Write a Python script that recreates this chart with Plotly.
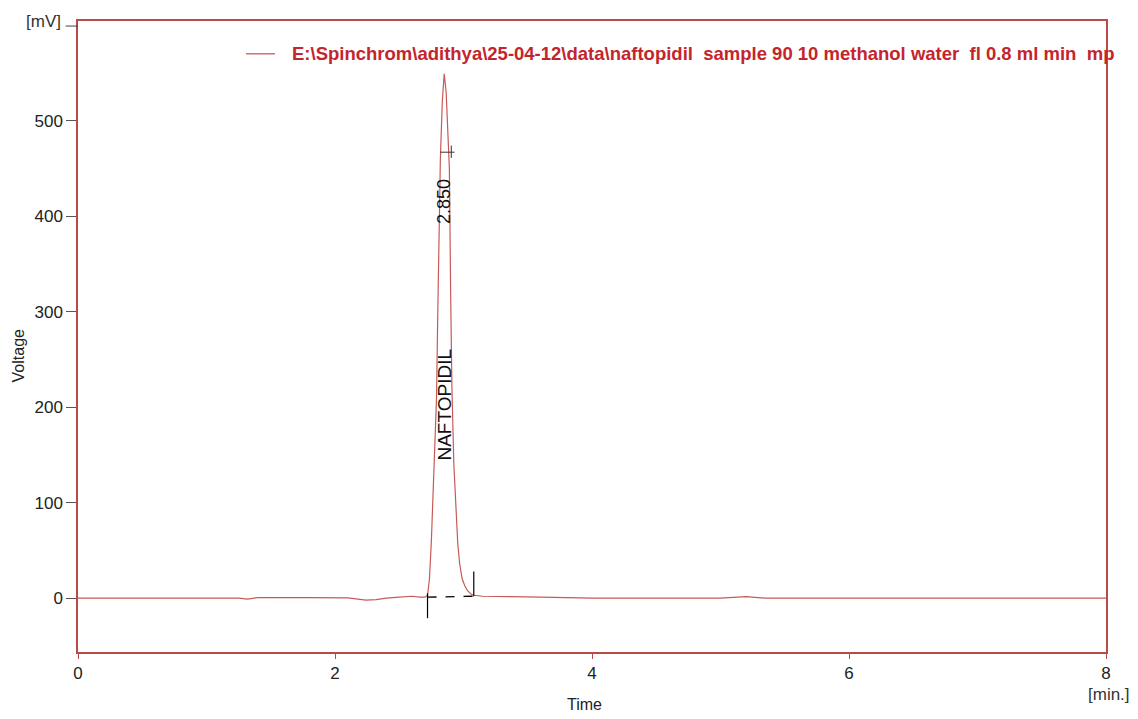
import plotly.graph_objects as go

# Chromatogram trace (time in min, voltage in mV)
time_min = [0.00, 0.50, 1.00, 1.25, 1.32, 1.40, 1.80, 2.10, 2.18, 2.24, 2.32, 2.40,
             2.50, 2.60, 2.66, 2.70, 2.72, 2.735, 2.75, 2.765, 2.78, 2.79, 2.80, 2.81,
             2.82, 2.835, 2.85, 2.865, 2.88, 2.89, 2.90, 2.91, 2.925, 2.94, 2.955,
             2.97, 2.99, 3.01, 3.03, 3.06, 3.08, 3.15, 3.30, 3.60, 4.00, 4.50, 5.00,
             5.20, 5.28, 5.35, 5.50, 6.00, 7.00, 8.00]
voltage_mv = [0.0, 0.0, 0.0, 0.0, -1.0, 0.5, 0.5, 0.3, -1.0, -2.0, -1.5, 0.0,
              1.0, 2.0, 1.0, 1.0, 3.0, 20.0, 60.0, 110.0, 170.0, 210.0, 300.0, 390.0,
              460.0, 520.0, 549.0, 530.0, 490.0, 450.0, 320.0, 220.0, 140.0, 90.0, 58.0,
              36.0, 20.0, 13.0, 8.0, 4.0, 3.0, 2.0, 1.5, 1.0, 0.0, 0.0, 0.0,
              1.5, 1.0, 0.0, 0.0, 0.0, 0.0, 0.0]

# Peak integration info
peak_name = "NAFTOPIDIL"
peak_rt = 2.850
peak_start = [2.72, 1.0]
peak_end = [3.08, 2.0]
trace_name = "E:\\Spinchrom\\adithya\\25-04-12\\data\\naftopidil  sample 90 10 methanol water  fl 0.8 ml min  mp"

x_ticks = [0, 2, 4, 6, 8]
y_ticks = [0, 100, 200, 300, 400, 500]

FRAME = "#b94a48"
LINE = "#c75a58"
FONT = "Liberation Sans, Arial, sans-serif"

fig = go.Figure()
fig.add_trace(go.Scatter(x=time_min, y=voltage_mv, mode="lines",
                         line=dict(color=LINE, width=1.2), name=trace_name,
                         showlegend=False))
# dashed baseline under the peak
fig.add_trace(go.Scatter(x=[peak_start[0], peak_end[0]], y=[peak_start[1], peak_end[1]],
                         mode="lines", line=dict(color="black", width=1.3, dash="dash"),
                         showlegend=False))

shapes = [
    # peak start / end markers
    dict(type="line", xref="x", yref="y", x0=peak_start[0], x1=peak_start[0], y0=5, y1=-21,
         line=dict(color="black", width=1.2)),
    dict(type="line", xref="x", yref="y", x0=peak_end[0], x1=peak_end[0], y0=2, y1=28,
         line=dict(color="black", width=1.2)),
    # width marker near apex
    dict(type="line", xref="x", yref="y", x0=2.82, x1=2.93, y0=467, y1=467,
         line=dict(color="#333", width=1)),
    dict(type="line", xref="x", yref="y", x0=2.905, x1=2.905, y0=474, y1=461,
         line=dict(color="#333", width=1)),
    # legend line
    dict(type="line", xref="paper", yref="paper", x0=0.1634, x1=0.1916, y0=0.948, y1=0.948,
         line=dict(color=LINE, width=1.3)),
    # [mV] tick
    dict(type="line", xref="paper", yref="paper", x0=-0.012, x1=0, y0=0.992, y1=0.992,
         line=dict(color="#444", width=1)),
]

annotations = [
    dict(x=0.2062, y=0.948, xref="paper", yref="paper",
         text="<b>" + trace_name.replace("  ", "&nbsp; ") + "</b>",
         showarrow=False, xanchor="left", yanchor="middle",
         font=dict(family=FONT, size=18.5, color="#c4252c")),
    dict(x=peak_rt, y=203, xref="x", yref="y", text=peak_name, textangle=-90,
         showarrow=False, xanchor="center", yanchor="middle",
         font=dict(family=FONT, size=19, color="#111")),
    dict(x=peak_rt, y=415, xref="x", yref="y", text=f"{peak_rt:.3f}", textangle=-90,
         showarrow=False, xanchor="center", yanchor="middle",
         font=dict(family=FONT, size=18, color="#111")),
    dict(x=-0.058, y=0.469, xref="paper", yref="paper", text="Voltage", textangle=-90,
         showarrow=False, xanchor="center", yanchor="middle",
         font=dict(family=FONT, size=16, color="#222")),
    dict(x=0.493, y=-0.083, xref="paper", yref="paper", text="Time",
         showarrow=False, xanchor="center", yanchor="middle",
         font=dict(family=FONT, size=16, color="#222")),
    dict(x=-0.034, y=1.0, xref="paper", yref="paper", text="[mV]",
         showarrow=False, xanchor="center", yanchor="middle",
         font=dict(family=FONT, size=17, color="#333")),
    dict(x=1.003, y=-0.068, xref="paper", yref="paper", text="[min.]",
         showarrow=False, xanchor="center", yanchor="middle",
         font=dict(family=FONT, size=17, color="#333")),
]

# the page body adds an 8px margin, so the figure is sized to fit inside the window
fig.update_layout(
    width=1130, height=711,
    margin=dict(l=70, r=32, t=11, b=67),
    paper_bgcolor="white", plot_bgcolor="white",
    shapes=shapes, annotations=annotations,
    font=dict(family=FONT),
)
fig.update_xaxes(range=[0, 8], tickvals=x_ticks, ticks="outside", ticklen=5,
                 tickcolor=FRAME, showline=True, linecolor=FRAME, linewidth=1.5,
                 mirror=True, showgrid=False, zeroline=False,
                 tickfont=dict(family=FONT, size=17, color="#222"))
fig.update_yaxes(range=[-56.4, 604.4], tickvals=y_ticks, ticks="outside", ticklen=10,
                 tickcolor="#555", showline=True, linecolor=FRAME, linewidth=1.5,
                 mirror=True, showgrid=False, zeroline=False,
                 tickfont=dict(family=FONT, size=17, color="#222"))

fig.write_html("out.html")
